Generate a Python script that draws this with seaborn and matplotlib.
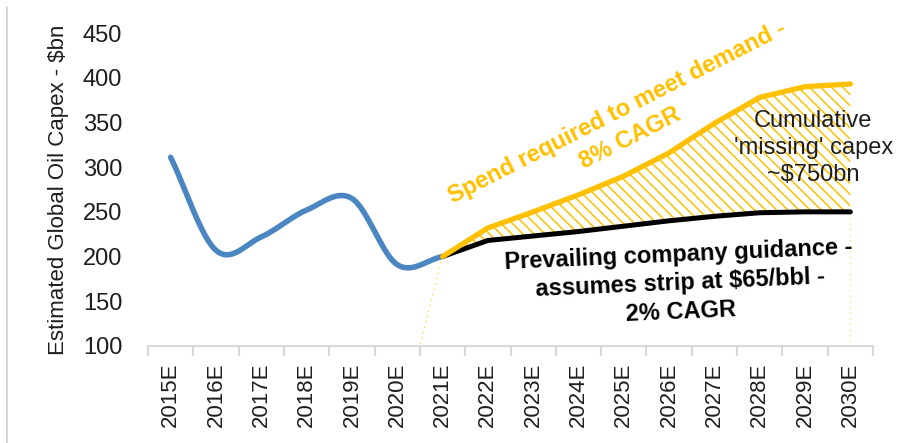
import numpy as np
import pandas as pd
import matplotlib
matplotlib.use("Agg")
import matplotlib.pyplot as plt
from matplotlib.lines import Line2D
import seaborn as sns

# Categories and series ($bn)
years = ["2015E", "2016E", "2017E", "2018E", "2019E", "2020E", "2021E", "2022E",
         "2023E", "2024E", "2025E", "2026E", "2027E", "2028E", "2029E", "2030E"]
history = [311, 207, 222, 252, 265, 191, 200]               # 2015E-2021E
required = [200, 232, 250, 269, 290, 316, 349, 378, 390, 393]   # 2021E-2030E, 8% CAGR
guidance = [200, 218, 223, 228, 234, 240, 245, 249, 250, 250]   # 2021E-2030E, 2% CAGR
y_ticks = [100, 150, 200, 250, 300, 350, 400, 450]

BLUE = "#4A86C1"
GOLD = "#FFC000"
GRID = "#D9D9D9"
TEXT = "#1E1E1E"

sns.set_theme(style="white")
plt.rcParams["font.family"] = ["Liberation Sans", "DejaVu Sans"]
plt.rcParams["hatch.linewidth"] = 1.1


def smooth(xv, yv, n=40):
    """Catmull-Rom spline through the points (spreadsheet-style smoothed line)."""
    xv = np.asarray(xv, float)
    yv = np.asarray(yv, float)
    px = np.concatenate([[2 * xv[0] - xv[1]], xv, [2 * xv[-1] - xv[-2]]])
    py = np.concatenate([[2 * yv[0] - yv[1]], yv, [2 * yv[-1] - yv[-2]]])
    out_x, out_y = [], []
    for i in range(1, len(px) - 2):
        t = np.linspace(0, 1, n, endpoint=False)
        for arr, out in ((px, out_x), (py, out_y)):
            p0, p1, p2, p3 = arr[i - 1], arr[i], arr[i + 1], arr[i + 2]
            c1 = p1 + (p2 - p0) / 6
            c2 = p2 - (p3 - p1) / 6
            out.extend((1 - t) ** 3 * p1 + 3 * (1 - t) ** 2 * t * c1
                       + 3 * (1 - t) * t ** 2 * c2 + t ** 3 * p2)
    out_x.append(xv[-1])
    out_y.append(yv[-1])
    return np.array(out_x), np.array(out_y)


x_hist = np.arange(len(history))
x_fut = np.arange(len(history) - 1, len(history) - 1 + len(required))

sx, sy = smooth(x_hist, history)
hist_df = pd.DataFrame({"x": sx, "capex": sy})
fut_df = pd.DataFrame({"x": x_fut, "required": required, "guidance": guidance})

fig = plt.figure(figsize=(8.99, 4.43), dpi=100)
ax = fig.add_axes([148 / 899, 1 - 346 / 443, 725 / 899, 313 / 443])

# Gap between required spend and company guidance
ax.fill_between(fut_df["x"], fut_df["guidance"], fut_df["required"],
                facecolor="none", edgecolor=GOLD, linewidth=0,
                hatch="\\\\\\", zorder=1)

# Dotted drop lines bounding the gap area
ax.plot([x_fut[0], x_fut[0] - 0.5], [guidance[0], y_ticks[0]],
        color=GOLD, lw=1.0, ls=(0, (1, 3)), alpha=0.7, zorder=1)
ax.plot([x_fut[-1], x_fut[-1]], [guidance[-1], y_ticks[0]],
        color=GOLD, lw=1.0, ls=(0, (1, 3)), alpha=0.5, zorder=1)

sns.lineplot(data=hist_df, x="x", y="capex", ax=ax, color=BLUE, lw=4.0,
             sort=False, estimator=None, zorder=3,
             solid_capstyle="round", solid_joinstyle="round")
sns.lineplot(data=fut_df, x="x", y="guidance", ax=ax, color="black", lw=3.6,
             estimator=None, zorder=4,
             solid_capstyle="round", solid_joinstyle="round")
sns.lineplot(data=fut_df, x="x", y="required", ax=ax, color=GOLD, lw=3.8,
             estimator=None, zorder=5,
             solid_capstyle="round", solid_joinstyle="round")

ax.set_xlim(-0.5, len(years) - 0.5)
ax.set_ylim(y_ticks[0], y_ticks[-1])

# Category axis: labels at centres, tick marks on the category boundaries
ax.set_xticks(np.arange(len(years)))
ax.set_xticklabels(years, rotation=90, fontsize=16, color=TEXT)
ax.set_xticks(np.arange(len(years) + 1) - 0.5, minor=True)
ax.tick_params(axis="x", which="major", length=0, pad=12)
ax.tick_params(axis="x", which="minor", length=7, width=1.5, color=GRID,
               bottom=True)

ax.set_yticks(y_ticks)
ax.set_yticklabels([str(v) for v in y_ticks], fontsize=17, color=TEXT)
ax.tick_params(axis="y", length=0, pad=18.5)

ax.set_xlabel("")
ax.set_ylabel("Estimated Global Oil Capex - $bn", fontsize=16,
              color=TEXT, labelpad=10)

for side in ("top", "right", "left"):
    ax.spines[side].set_visible(False)
ax.spines["bottom"].set_color(GRID)
ax.spines["bottom"].set_linewidth(1.5)

# Annotations
ax.text(10.0, 347, "Spend required to meet demand -\n8% CAGR",
        color=GOLD, fontsize=17, fontweight="bold", rotation=27,
        rotation_mode="anchor", ha="center", va="center",
        linespacing=1.3, zorder=6)
ax.text(11.24, 170, "Prevailing company guidance -\nassumes strip at $65/bbl -\n2% CAGR",
        color="black", fontsize=17, fontweight="bold", rotation=2.5,
        rotation_mode="anchor", ha="center", va="center",
        linespacing=1.3, zorder=6)
ax.text(14.18, 321, "Cumulative\n'missing' capex\n~$750bn",
        color=TEXT, fontsize=17, ha="center", va="center",
        linespacing=1.3, zorder=6)

# Frame edge on the left of the figure
fig.add_artist(Line2D([7 / 899, 7 / 899], [0, 1 - 7 / 443],
                      transform=fig.transFigure, color="#D0D0D0", lw=1.2))

fig.savefig("out.png", dpi=100)
